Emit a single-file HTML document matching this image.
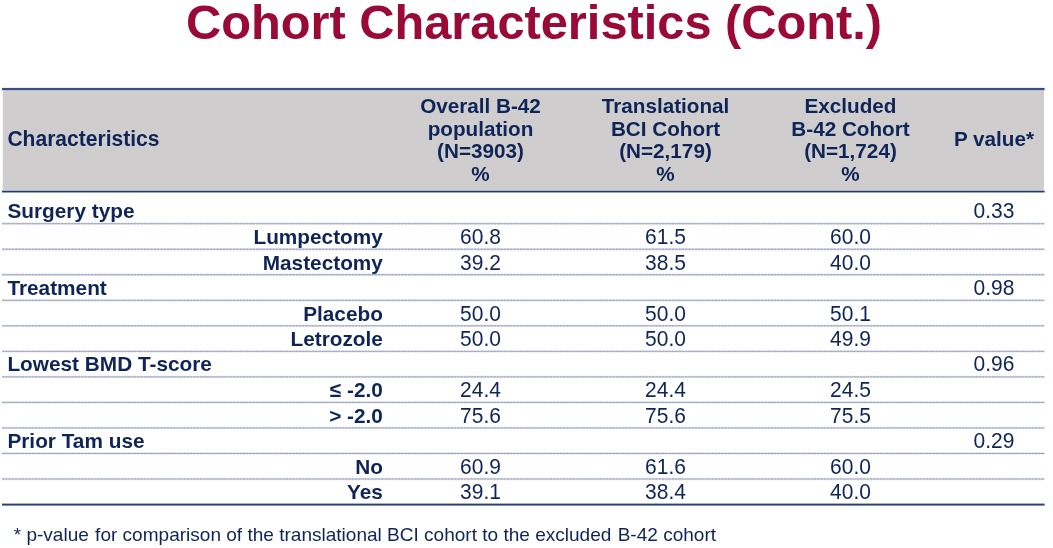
<!DOCTYPE html>
<html lang="en"><head><meta charset="utf-8"><title>Cohort Characteristics (Cont.)</title>
<style>
html,body{margin:0;padding:0;background:#fff;}
body{width:1053px;height:548px;position:relative;overflow:hidden;font-family:"Liberation Sans",Arial,sans-serif;color:#0f2557;}
.t{position:absolute;white-space:nowrap;line-height:1;}
.title{left:0;width:1068px;text-align:center;top:-2px;font-size:48.75px;font-weight:bold;color:#9a0a37;transform:scaleY(1.005);transform-origin:50% 41px;}
.bgsvg{position:absolute;left:0;top:0;}
.b{font-weight:bold;transform:scaleY(1.012);transform-origin:50% 17px;}
.h{font-size:20.7px;font-weight:bold;text-align:center;width:185px;transform:scaleY(1.012);transform-origin:50% 17px;}
.c{text-align:center;width:185px;}
.p{text-align:center;width:102px;left:943px;}
.r{text-align:right;left:100px;width:282.9px;}
.d{font-size:20.8px;}
.n{font-size:21px;transform:scaleY(1.03);transform-origin:50% 18px;}
.fn{font-size:19.04px;left:13.7px;top:525px;}
.g{margin-left:1px;}
.wrap{position:absolute;left:0;top:0;width:1053px;height:548px;filter:blur(0.45px);}
</style></head><body>
<div class="wrap">
<div class="t title">Cohort Characteristics (Cont.)</div>
<svg class="bgsvg" width="1053" height="548" viewBox="0 0 1053 548">
<rect x="2.8" y="89" width="1041.2" height="101.1" fill="#cfcdce"/>
<rect x="2" y="87.9" width="1042.6" height="2.2" fill="#364e81"/>
<rect x="2" y="190.65" width="1042.6" height="1.8" fill="#233a69"/>
<rect x="2" y="503.6" width="1042.6" height="2.0" fill="#2b4373"/>
<g stroke-width="1.7" fill="none">
<path d="M2 223.70H1044.6" stroke="#d3d7e6" stroke-width="2.3" stroke-dasharray="2.2 1.1"/><path d="M2 223.70H1044.6" stroke="#9da5be" stroke-width="0.95"/>
<path d="M2 249.23H1044.6" stroke="#d3d7e6" stroke-width="2.3" stroke-dasharray="2.2 1.1"/><path d="M2 249.23H1044.6" stroke="#9da5be" stroke-width="0.95"/>
<path d="M2 274.76H1044.6" stroke="#d3d7e6" stroke-width="2.3" stroke-dasharray="2.2 1.1"/><path d="M2 274.76H1044.6" stroke="#9da5be" stroke-width="0.95"/>
<path d="M2 300.29H1044.6" stroke="#d3d7e6" stroke-width="2.3" stroke-dasharray="2.2 1.1"/><path d="M2 300.29H1044.6" stroke="#9da5be" stroke-width="0.95"/>
<path d="M2 325.82H1044.6" stroke="#d3d7e6" stroke-width="2.3" stroke-dasharray="2.2 1.1"/><path d="M2 325.82H1044.6" stroke="#9da5be" stroke-width="0.95"/>
<path d="M2 351.35H1044.6" stroke="#d3d7e6" stroke-width="2.3" stroke-dasharray="2.2 1.1"/><path d="M2 351.35H1044.6" stroke="#9da5be" stroke-width="0.95"/>
<path d="M2 376.88H1044.6" stroke="#d3d7e6" stroke-width="2.3" stroke-dasharray="2.2 1.1"/><path d="M2 376.88H1044.6" stroke="#9da5be" stroke-width="0.95"/>
<path d="M2 402.41H1044.6" stroke="#d3d7e6" stroke-width="2.3" stroke-dasharray="2.2 1.1"/><path d="M2 402.41H1044.6" stroke="#9da5be" stroke-width="0.95"/>
<path d="M2 427.94H1044.6" stroke="#d3d7e6" stroke-width="2.3" stroke-dasharray="2.2 1.1"/><path d="M2 427.94H1044.6" stroke="#9da5be" stroke-width="0.95"/>
<path d="M2 453.47H1044.6" stroke="#d3d7e6" stroke-width="2.3" stroke-dasharray="2.2 1.1"/><path d="M2 453.47H1044.6" stroke="#9da5be" stroke-width="0.95"/>
<path d="M2 479.00H1044.6" stroke="#d3d7e6" stroke-width="2.3" stroke-dasharray="2.2 1.1"/><path d="M2 479.00H1044.6" stroke="#9da5be" stroke-width="0.95"/>
</g>
</svg>
<div class="t b" style="left:7.4px;top:128px;font-size:21.05px">Characteristics</div>

<div class="t h" style="left:388px;top:96px">Overall B-42</div>
<div class="t h" style="left:388px;top:119px">population</div>
<div class="t h" style="left:388px;top:141px">(N=3903)</div>
<div class="t h" style="left:388px;top:164px">%</div>
<div class="t h" style="left:573px;top:96px">Translational</div>
<div class="t h" style="left:573px;top:119px">BCI Cohort</div>
<div class="t h" style="left:573px;top:141px">(N=2,179)</div>
<div class="t h" style="left:573px;top:164px">%</div>
<div class="t h" style="left:758px;top:96px">Excluded</div>
<div class="t h" style="left:758px;top:119px">B-42 Cohort</div>
<div class="t h" style="left:758px;top:141px">(N=1,724)</div>
<div class="t h" style="left:758px;top:164px">%</div>
<div class="t h p" style="top:129px">P value*</div>
<div class="t b d" style="left:7.4px;top:201px">Surgery type</div>
<div class="t p n" style="top:200px">0.33</div>
<div class="t b r d" style="top:227px">Lumpectomy</div>
<div class="t c n" style="left:388px;top:226px">60.8</div>
<div class="t c n" style="left:573px;top:226px">61.5</div>
<div class="t c n" style="left:758px;top:226px">60.0</div>
<div class="t b r d" style="top:253px">Mastectomy</div>
<div class="t c n" style="left:388px;top:252px">39.2</div>
<div class="t c n" style="left:573px;top:252px">38.5</div>
<div class="t c n" style="left:758px;top:252px">40.0</div>
<div class="t b d" style="left:7.4px;top:278px">Treatment</div>
<div class="t p n" style="top:277px">0.98</div>
<div class="t b r d" style="top:304px">Placebo</div>
<div class="t c n" style="left:388px;top:303px">50.0</div>
<div class="t c n" style="left:573px;top:303px">50.0</div>
<div class="t c n" style="left:758px;top:303px">50.1</div>
<div class="t b r d" style="top:329px">Letrozole</div>
<div class="t c n" style="left:388px;top:328px">50.0</div>
<div class="t c n" style="left:573px;top:328px">50.0</div>
<div class="t c n" style="left:758px;top:328px">49.9</div>
<div class="t b d" style="left:7.4px;top:354px">Lowest BMD T-score</div>
<div class="t p n" style="top:353px">0.96</div>
<div class="t b r d" style="top:380px">≤ -2.0</div>
<div class="t c n" style="left:388px;top:379px">24.4</div>
<div class="t c n" style="left:573px;top:379px">24.4</div>
<div class="t c n" style="left:758px;top:379px">24.5</div>
<div class="t b r d" style="top:406px">&gt; -2.0</div>
<div class="t c n" style="left:388px;top:405px">75.6</div>
<div class="t c n" style="left:573px;top:405px">75.6</div>
<div class="t c n" style="left:758px;top:405px">75.5</div>
<div class="t b d" style="left:7.4px;top:431px">Prior Tam use</div>
<div class="t p n" style="top:430px">0.29</div>
<div class="t b r d" style="top:457px">No</div>
<div class="t c n" style="left:388px;top:456px">60.9</div>
<div class="t c n" style="left:573px;top:456px">61.6</div>
<div class="t c n" style="left:758px;top:456px">60.0</div>
<div class="t b r d" style="top:482px">Yes</div>
<div class="t c n" style="left:388px;top:481px">39.1</div>
<div class="t c n" style="left:573px;top:481px">38.4</div>
<div class="t c n" style="left:758px;top:481px">40.0</div>
<div class="t fn">* p-value<span class="g"> </span>for comparison of the translational BCI cohort to the excluded<span class="g"> </span>B-42 cohort</div>
</div>
</body></html>
